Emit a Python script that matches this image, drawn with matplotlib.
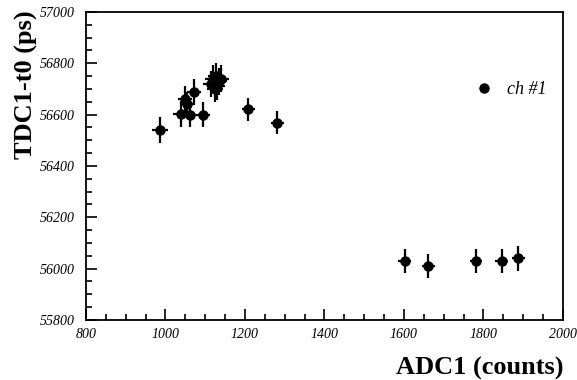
import matplotlib
matplotlib.use("Agg")
import matplotlib.pyplot as plt
from matplotlib.lines import Line2D
from matplotlib.ticker import MultipleLocator

# ── Data ──────────────────────────────────────────────────────────────────────

adc = [986, 1040, 1062, 1095, 1049, 1055, 1072,
       1115, 1120, 1125, 1130, 1135, 1140, 1128,
       1208, 1281,
       1602, 1661, 1781, 1846, 1888]
tdc = [56540, 56602, 56600, 56600, 56660, 56640, 56690,
       56720, 56740, 56700, 56710, 56730, 56740, 56750,
       56621, 56569,
       56030, 56011, 56030, 56030, 56040]
adc_err = [20, 20, 18, 18, 18, 18, 18,
           20, 20, 20, 20, 20, 20, 20,
           16, 16,
           16, 16, 16, 16, 16]
tdc_err = [52, 52, 50, 50, 50, 50, 50,
           52, 52, 52, 52, 52, 52, 52,
           45, 45,
           48, 48, 48, 48, 48]

series_label = "ch #1"

# ── Plot ──────────────────────────────────────────────────────────────────────

fig = plt.figure(figsize=(5.77, 3.80), dpi=100)
ax = fig.add_axes([86 / 577, 1 - 320 / 380, 477 / 577, 308 / 380])

ax.errorbar(adc, tdc, xerr=adc_err, yerr=tdc_err,
            fmt="o", color="black", markersize=6.5,
            elinewidth=1.6, capsize=0, zorder=3)

ax.set_xlim(800, 2000)
ax.set_ylim(55800, 57000)

ax.xaxis.set_major_locator(MultipleLocator(200))
ax.xaxis.set_minor_locator(MultipleLocator(50))
ax.yaxis.set_major_locator(MultipleLocator(200))
ax.yaxis.set_minor_locator(MultipleLocator(50))

ax.tick_params(which="both", direction="in", top=False, right=False,
               width=1.2, colors="black")
ax.tick_params(which="major", length=8)
ax.tick_params(which="minor", length=4)
ax.tick_params(axis="x", pad=6)
ax.tick_params(axis="y", pad=8)

for lbl in ax.get_xticklabels() + ax.get_yticklabels():
    lbl.set_fontfamily("Liberation Serif")
    lbl.set_fontstyle("italic")
    lbl.set_fontsize(10)

for spine in ax.spines.values():
    spine.set_linewidth(1.3)

ax.set_ylabel("TDC1-t0 (ps)", family="Liberation Serif", fontweight="bold",
              fontsize=19, va="center")
ax.yaxis.set_label_coords(-0.124, 0.763)

ax.set_xlabel("ADC1 (counts)", family="Liberation Serif", fontweight="bold",
              fontsize=19, va="center", ha="right")
ax.xaxis.set_label_coords(1.0, -0.156)

handle = Line2D([], [], marker="o", linestyle="none", color="black",
                markersize=6.5)
ax.legend([handle], [series_label], loc="center left",
          bbox_to_anchor=(0.80, 0.747), frameon=False, handlelength=1.0,
          handletextpad=0.8, borderaxespad=0,
          prop=dict(family="Liberation Serif", style="italic", size=13))

fig.savefig("out.png", dpi=100)
plt.close(fig)
